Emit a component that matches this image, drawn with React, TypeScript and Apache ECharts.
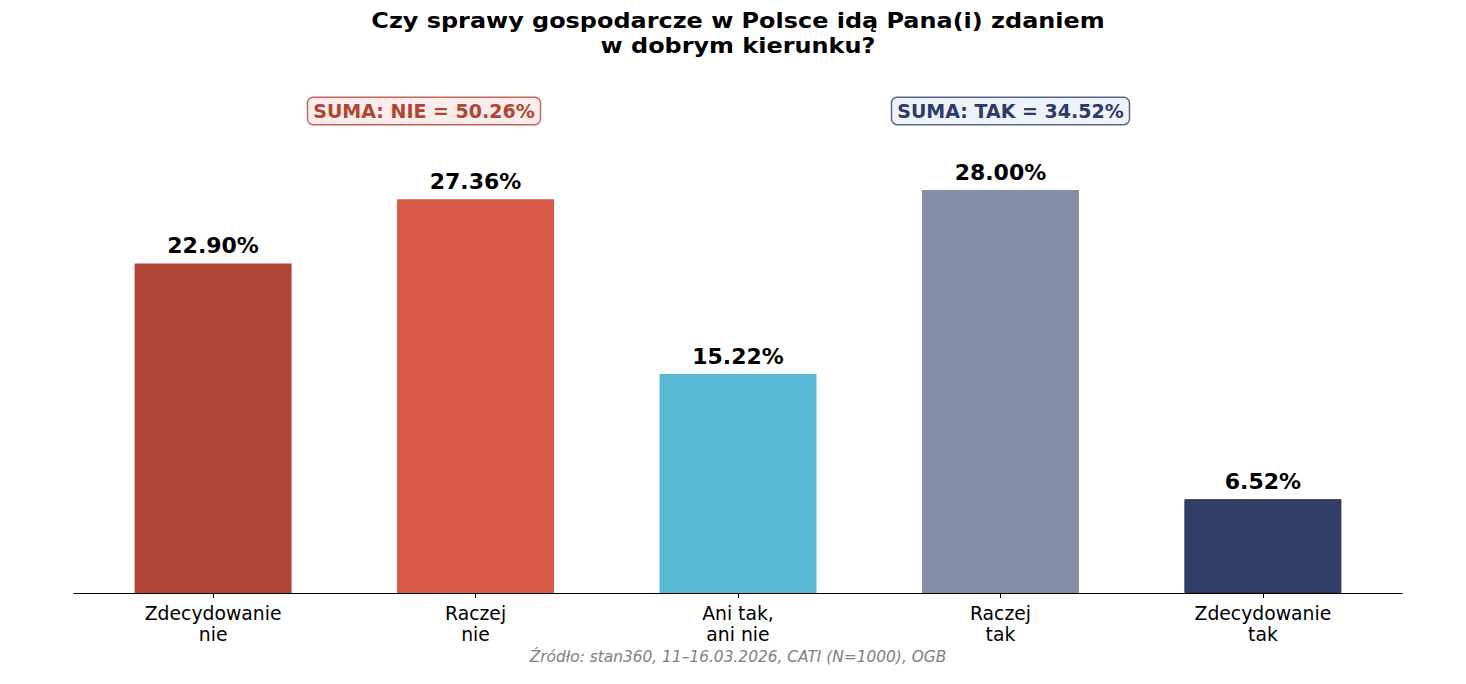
import React, { useEffect, useRef } from "react";
import * as echarts from "echarts";

const categories = ["Zdecydowanie\nnie", "Raczej\nnie", "Ani tak,\nani nie", "Raczej\ntak", "Zdecydowanie\ntak"];
const values = [22.9, 27.36, 15.22, 28.0, 6.52];
const barColors = ["#b04535", "#d75948", "#56b8d2", "#838fa7", "#323e68"];
const titleLines = ["Czy sprawy gospodarcze w Polsce idą Pana(i) zdaniem", "w dobrym kierunku?"];
const sumNie = "SUMA: NIE = 50.26%";
const sumTak = "SUMA: TAK = 34.52%";
const source = "Źródło: stan360, 11–16.03.2026, CATI (N=1000), OGB";

const FONT = "DejaVu Sans";

export default function App() {
  const ref = useRef<HTMLDivElement>(null);
  useEffect(() => {
    document.body.style.margin = "0";
    const chart = echarts.init(ref.current!, null, { renderer: "svg" });
    chart.setOption({
      animation: false,
      backgroundColor: "#ffffff",
      textStyle: { fontFamily: FONT },
      grid: { left: 74, right: 64, top: 89.4, bottom: 91, containLabel: false },
      xAxis: {
        type: "value",
        min: -0.53,
        max: 4.53,
        splitLine: { show: false },
        axisLine: { show: true, onZero: false, lineStyle: { color: "#000", width: 1.2 } },
        axisTick: { show: true, customValues: [0, 1, 2, 3, 4], length: 5, lineStyle: { color: "#000", width: 1 } },
        axisLabel: {
          show: true,
          customValues: [0, 1, 2, 3, 4],
          formatter: (v: number) => categories[Math.round(v)] ?? "",
          color: "#000",
          fontFamily: FONT,
          fontSize: 18.8,
          lineHeight: 21,
          margin: 10,
        },
      },
      yAxis: {
        type: "value",
        min: 0,
        max: 35,
        show: false,
        splitLine: { show: false },
      },
      series: [
        {
          type: "bar",
          barWidth: 157,
          data: values.map((v, i) => ({
            value: [i, v],
            itemStyle: { color: barColors[i], borderColor: i === 4 ? "#283257" : undefined, borderWidth: i === 4 ? 1 : 0 },
          })),
          label: {
            show: true,
            position: "top",
            distance: 7,
            formatter: (p: any) => p.value[1].toFixed(2) + "%",
            color: "#000",
            fontFamily: FONT,
            fontWeight: "bold",
            fontSize: 22,
          },
        },
      ],
      graphic: [
        {
          type: "text",
          x: 738,
          y: 8,
          scaleX: 1.14,
          style: {
            text: titleLines.join("\n"),
            fill: "#000",
            font: `bold 21px '${FONT}'`,
            lineHeight: 25,
            textAlign: "center",
            textVerticalAlign: "top",
          },
        },
        {
          type: "text",
          x: 424,
          y: 111,
          style: {
            text: sumNie,
            fill: "#b04535",
            font: `bold 19px '${FONT}'`,
            textAlign: "center",
            textVerticalAlign: "middle",
            backgroundColor: "#faecea",
            borderColor: "#c0665c",
            borderWidth: 1.5,
            borderRadius: 5,
            padding: [4, 5, 3, 5],
          },
        },
        {
          type: "text",
          x: 1010.5,
          y: 111,
          style: {
            text: sumTak,
            fill: "#2e3a66",
            font: `bold 19px '${FONT}'`,
            textAlign: "center",
            textVerticalAlign: "middle",
            backgroundColor: "#eef2f9",
            borderColor: "#5a6488",
            borderWidth: 1.5,
            borderRadius: 5,
            padding: [4, 5, 3, 5],
          },
        },
        {
          type: "text",
          x: 738,
          y: 657,
          style: {
            text: source,
            fill: "#808080",
            font: `italic 15.4px '${FONT}'`,
            textAlign: "center",
            textVerticalAlign: "middle",
          },
        },
      ],
    });
    return () => chart.dispose();
  }, []);
  return <div ref={ref} style={{ width: 1466, height: 684 }} />;
}
